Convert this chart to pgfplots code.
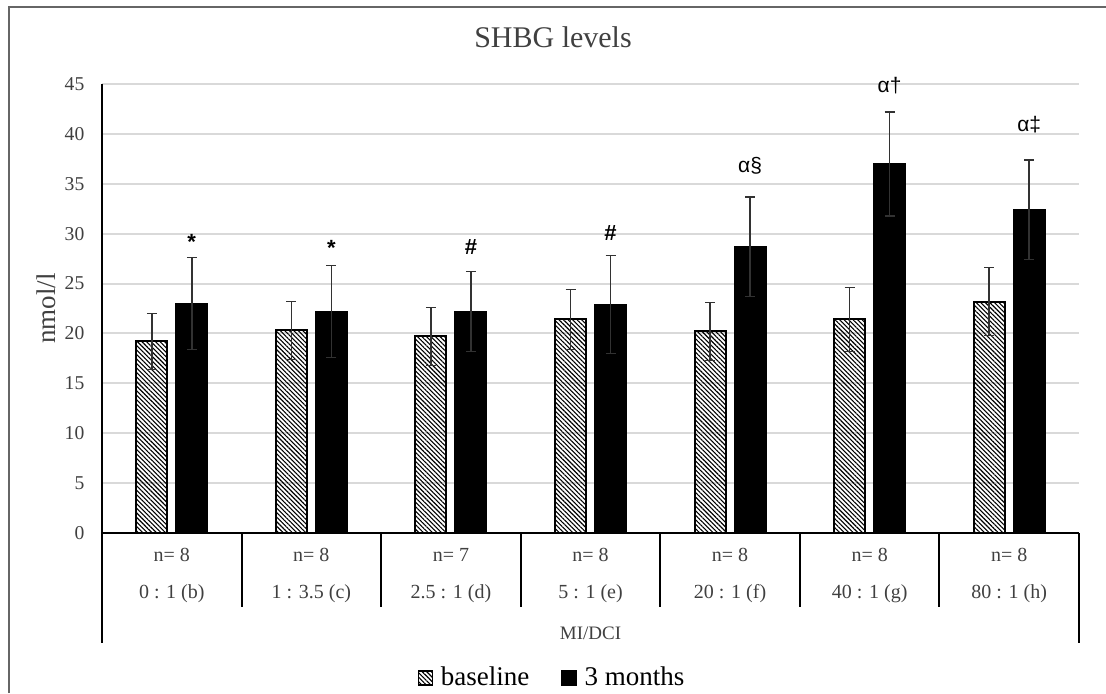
\documentclass[border=0pt]{standalone}
\usepackage{fontspec}
\setmainfont{Liberation Serif}
\newfontfamily\arial{Liberation Sans}
\usepackage{pgfplots}
\pgfplotsset{compat=1.18}
\usepackage{pgfplotstable}
\usetikzlibrary{patterns.meta}

\definecolor{txt}{RGB}{64,64,64}
\definecolor{gridgray}{RGB}{217,217,217}
\definecolor{errgray}{RGB}{50,50,50}

% group, baseline mean/sd, 3 months mean/sd
\pgfplotstableread{
x  b     be   m     me
1  19.2  2.8  23.0  4.6
2  20.3  2.9  22.2  4.6
3  19.7  2.9  22.2  4.0
4  21.4  3.0  22.9  4.9
5  20.2  2.9  28.7  5.0
6  21.4  3.2  37.0  5.2
7  23.2  3.4  32.4  5.0
}\shbg

\begin{document}
\begin{tikzpicture}
\useasboundingbox (-51pt,-80pt) rectangle (502pt,266.5pt);
\draw[black!60, line width=0.6pt] (-46.5pt,-80pt) -- (-46.5pt,263pt) -- (502pt,263pt);
\node[font=\fontsize{15}{18}\selectfont, text=txt, anchor=base] at (225.5pt,243pt) {SHBG levels};
\begin{axis}[
    scale only axis,
    width=488.5pt, height=224.5pt,
    at={(0,0)}, anchor=south west,
    ybar=4.5pt, bar width=15.5pt,
    xmin=0.5, xmax=7.5,
    ymin=0, ymax=45,
    ytick={0,5,...,45},
    xtick={1,...,7},
    xticklabels={{n= 8\\0 : 1 (b)},{n= 8\\1 : 3.5 (c)},{n= 7\\2.5 : 1 (d)},{n= 8\\5 : 1 (e)},{n= 8\\20 : 1 (f)},{n= 8\\40 : 1 (g)},{n= 8\\80 : 1 (h)}},
    xticklabel style={align=center, font=\fontsize{10}{18.5}\selectfont, text=txt, anchor=north, yshift=-4.2pt},
    yticklabel style={font=\fontsize{9.8}{11}\selectfont, text=txt, xshift=-5.3pt},
    /pgf/number format/assume math mode=true,
    major tick length=0pt,
    axis lines*=left,
    axis line style={line width=1pt, black},
    ymajorgrids, grid style={gridgray, line width=1pt},
    ylabel={nmol/l},
    ylabel style={font=\fontsize{13.5}{16}\selectfont, text=txt, at={(axis description cs:-0.0573,0.5)}, anchor=center},
    xlabel={MI/DCI},
    xlabel style={font=\fontsize{9.5}{11}\selectfont, text=txt, at={(axis description cs:0.5,-0.2227)}, anchor=center},
    clip=false,
    legend image code/.code={\draw[#1, line width=0.6pt] (0pt,-3.5pt) rectangle (7pt,3.5pt);},
    legend style={at={(axis description cs:0.4616,-0.323)}, anchor=center, draw=none, fill=none,
        legend columns=2, font=\fontsize{13.5}{16}\selectfont, text=black,
        /tikz/every odd column/.append style={column sep=2pt},
        /tikz/every even column/.append style={column sep=14pt}},
    error bars/y dir=both, error bars/y explicit,
    error bars/error bar style={line width=0.8pt, errgray},
    error bars/error mark options={rotate=90, mark size=2.5pt, line width=0.8pt, errgray},
]
\addplot[draw=black, line width=1pt, pattern={Lines[angle=-45,distance=1.6pt,line width=0.55pt]}]
    table[x=x, y=b, y error=be] {\shbg};
\addlegendentry{baseline}
\addplot[draw=black, fill=black, line width=1pt]
    table[x=x, y=m, y error=me] {\shbg};
\addlegendentry{3 months}

\pgfplotsinvokeforeach{1.5,2.5,3.5,4.5,5.5,6.5}{
    \draw[line width=1pt] (axis cs:#1,0) -- ++(0pt,-37pt);
}
\draw[line width=1pt] (axis cs:0.5,0) -- ++(0pt,-55pt);
\draw[line width=1pt] (axis cs:7.5,0) -- ++(0pt,-55pt);

\node[font=\arial\bfseries\fontsize{11}{13}\selectfont] at (axis cs:1.143,29.2) {*};
\node[font=\arial\bfseries\fontsize{11}{13}\selectfont] at (axis cs:2.143,28.6) {*};
\node[font=\arial\bfseries\fontsize{11}{13}\selectfont] at (axis cs:3.143,28.7) {\#};
\node[font=\arial\bfseries\fontsize{11}{13}\selectfont] at (axis cs:4.143,30.1) {\#};
\node[font=\arial\fontsize{10.5}{12}\selectfont] at (axis cs:5.143,36.8) {α§};
\node[font=\arial\fontsize{10.5}{12}\selectfont] at (axis cs:6.143,44.8) {α†};
\node[font=\arial\fontsize{10.5}{12}\selectfont] at (axis cs:7.143,40.9) {α‡};
\end{axis}
\end{tikzpicture}
\end{document}
